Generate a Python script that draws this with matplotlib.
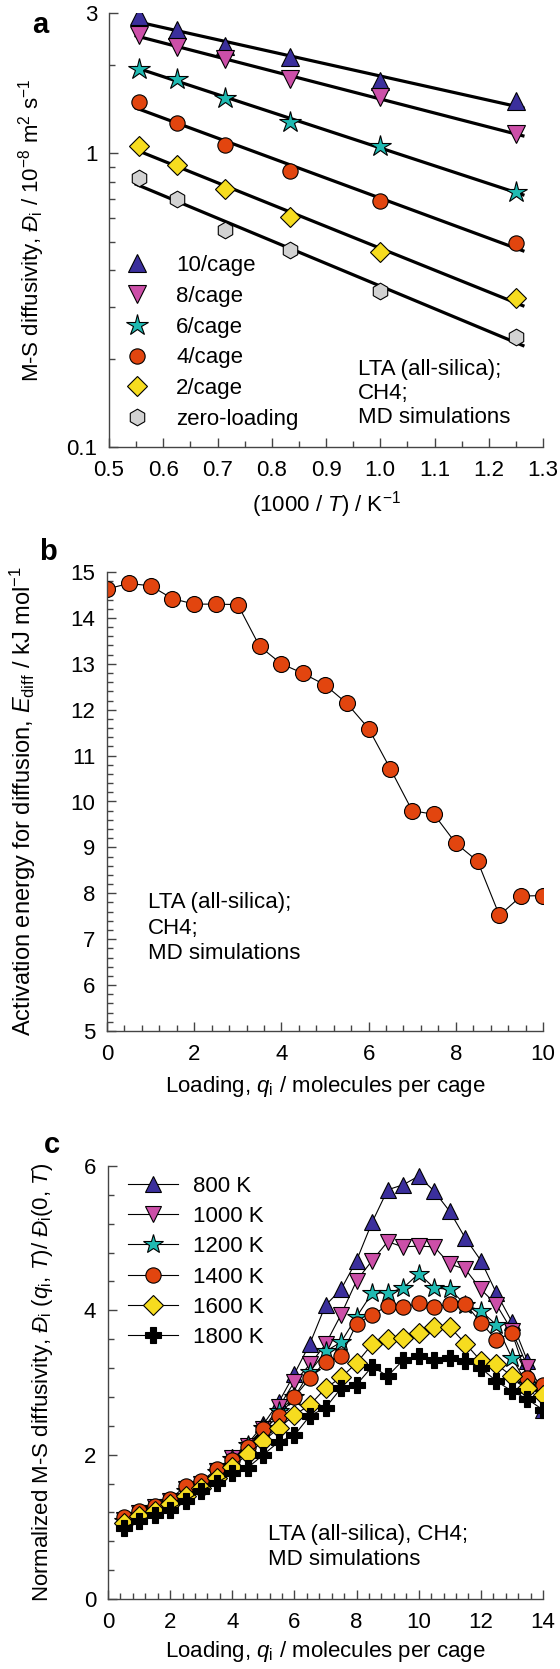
import numpy as np
import matplotlib
matplotlib.use('Agg')
import matplotlib.pyplot as plt
from matplotlib.ticker import MultipleLocator, FixedLocator, NullFormatter

plt.rcParams['font.family'] = ['Liberation Sans', 'DejaVu Sans']
plt.rcParams['mathtext.fontset'] = 'custom'
plt.rcParams['mathtext.rm'] = 'Liberation Sans'
plt.rcParams['mathtext.it'] = 'Liberation Sans:italic'
plt.rcParams['mathtext.bf'] = 'Liberation Sans:bold'
plt.rcParams['font.size'] = 16

# ---- (a) M-S diffusivity vs 1000/T, per loading ----
temps_a = [1800, 1600, 1400, 1200, 1000, 800]
D_10 = [2.92, 2.63, 2.31, 2.12, 1.76, 1.50]
D_8 = [2.53, 2.30, 2.09, 1.79, 1.55, 1.165]
D_6 = [1.94, 1.79, 1.54, 1.28, 1.06, 0.735]
D_4 = [1.49, 1.27, 1.07, 0.873, 0.689, 0.493]
D_2 = [1.057, 0.914, 0.755, 0.608, 0.462, 0.321]
D_0 = [0.823, 0.698, 0.548, 0.468, 0.339, 0.237]
labels_a = ['10/cage', '8/cage', '6/cage', '4/cage', '2/cage', 'zero-loading']

# ---- (b) activation energy vs loading ----
q_b = [0, 0.5, 1, 1.5, 2, 2.5, 3, 3.5, 4, 4.5, 5, 5.5, 6, 6.5, 7, 7.5, 8, 8.5, 9, 9.5, 10]
E_diff = [14.63, 14.75, 14.70, 14.42, 14.30, 14.30, 14.29, 13.38, 13.00, 12.79, 12.54,
          12.14, 11.59, 10.71, 9.80, 9.72, 9.09, 8.70, 7.52, 7.94, 7.95]

# ---- (c) normalized diffusivity vs loading, per temperature ----
q_c = [0.5, 1, 1.5, 2, 2.5, 3, 3.5, 4, 4.5, 5, 5.5, 6, 6.5, 7, 7.5, 8, 8.5, 9, 9.5, 10,
       10.5, 11, 11.5, 12, 12.5, 13, 13.5, 14]
N_800 = [1.10, 1.19, 1.27, 1.36, 1.52, 1.60, 1.79, 1.97, 2.15, 2.42, 2.73, 3.12, 3.54, 4.07,
         4.29, 4.69, 5.22, 5.67, 5.74, 5.86, 5.65, 5.37, 5.00, 4.69, 4.24, 3.84, 3.30, 2.62]
N_1000 = [1.10, 1.19, 1.27, 1.36, 1.52, 1.60, 1.77, 1.95, 2.12, 2.36, 2.66, 3.01, 3.25, 3.53,
          3.94, 4.41, 4.69, 4.95, 4.88, 4.89, 4.88, 4.64, 4.57, 4.29, 4.08, 3.72, 3.22, 2.90]
N_1200 = [1.08, 1.17, 1.25, 1.34, 1.50, 1.58, 1.76, 1.94, 2.13, 2.37, 2.60, 2.80, 3.15, 3.43,
          3.56, 3.91, 4.24, 4.24, 4.31, 4.51, 4.31, 4.29, 4.08, 3.99, 3.80, 3.34, 2.97, 2.88]
N_1400 = [1.13, 1.22, 1.29, 1.38, 1.57, 1.63, 1.80, 1.93, 2.10, 2.35, 2.53, 2.80, 3.06, 3.29,
          3.37, 3.81, 3.94, 4.06, 4.04, 4.10, 4.04, 4.09, 4.09, 3.83, 3.59, 3.69, 3.06, 2.96]
N_1600 = [1.05, 1.15, 1.22, 1.31, 1.43, 1.54, 1.68, 1.83, 2.01, 2.19, 2.37, 2.55, 2.69, 2.92,
          3.07, 3.27, 3.53, 3.60, 3.61, 3.68, 3.77, 3.77, 3.54, 3.30, 3.25, 3.09, 2.93, 2.83]
N_1800 = [0.99, 1.08, 1.17, 1.24, 1.36, 1.50, 1.61, 1.74, 1.82, 2.00, 2.18, 2.27, 2.54, 2.65,
          2.92, 2.97, 3.22, 3.09, 3.31, 3.37, 3.31, 3.34, 3.30, 3.20, 3.02, 2.88, 2.77, 2.62]
labels_c = ['800 K', '1000 K', '1200 K', '1400 K', '1600 K', '1800 K']

blue = '#3b2f9c'
pink = '#cc4fa8'
teal = '#1fbab2'
orange = '#e2450f'
yellow = '#f6dc1f'
grey = '#d2d2d2'
axcol = '#444444'

W, H = 560, 1669
fig = plt.figure(figsize=(W / 100, H / 100), dpi=100)


def box(left, top, right, bottom):
    return [left / W, 1 - bottom / H, (right - left) / W, (bottom - top) / H]


def style(ax):
    for s in ['top', 'right']:
        ax.spines[s].set_visible(False)
    for s in ['left', 'bottom']:
        ax.spines[s].set_color(axcol)
        ax.spines[s].set_linewidth(1.0)
    ax.tick_params(which='both', direction='in', color=axcol, width=1.0)
    ax.tick_params(which='major', length=6.5)
    ax.tick_params(which='minor', length=4.5)
    ax.tick_params(axis='x', which='both', pad=9)
    ax.tick_params(axis='y', which='both', pad=8.4)


# ================= panel a =================
ax1 = fig.add_axes(box(109, 13, 543, 447))
style(ax1)
x_a = 1000.0 / np.array(temps_a)
series_a = [D_10, D_8, D_6, D_4, D_2, D_0]
marks_a = [('^', blue, 13), ('v', pink, 13), ('*', teal, 16),
           ('o', orange, 11), ('D', yellow, 10.5), ('h', grey, 12)]
xfit = np.array([0.55, 1.263])
for D in series_a:
    k, b = np.polyfit(x_a, np.log(D), 1)
    ax1.plot(xfit, np.exp(k * xfit + b), color='black', lw=2.3, zorder=2)
for D, (m, c, ms), lab in zip(series_a, marks_a, labels_a):
    ax1.plot(x_a, D, ls='none', marker=m, ms=ms, mfc=c, mec='black', mew=0.8,
             label=lab, zorder=3)
ax1.set_yscale('log')
ax1.set_xlim(0.5, 1.3)
ax1.set_ylim(0.1, 3)
ax1.xaxis.set_major_locator(MultipleLocator(0.1))
ax1.xaxis.set_minor_locator(MultipleLocator(0.05))
ax1.set_xticklabels(['%.1f' % v for v in ax1.get_xticks()])
ax1.yaxis.set_major_locator(FixedLocator([0.1, 1, 3]))
ax1.yaxis.set_minor_locator(FixedLocator([0.2, 0.3, 0.4, 0.5, 0.6, 0.7, 0.8, 0.9, 2]))
ax1.yaxis.set_minor_formatter(NullFormatter())
ax1.set_yticklabels(['0.1', '1', '3'])
ax1.set_xlabel(r'(1000 / $T$) / K$^{-1}$', labelpad=6)
ax1.set_ylabel(r'M-S diffusivity, $\mathit{Đ}_\mathrm{i}$ / 10$^{-8}$ m$^2$ s$^{-1}$')
ax1.yaxis.set_label_coords(-0.144, 0.5)
ax1.legend(loc='upper left', bbox_to_anchor=(0.04, 0.4425), frameon=False,
           handlelength=1.0, handletextpad=1.25, labelspacing=0.44,
           borderpad=0, borderaxespad=0, numpoints=1)
ax1.text(0.574, 0.2036, 'LTA (all-silica);\nCH4;\nMD simulations',
         transform=ax1.transAxes, va='top', ha='left', linespacing=1.2)
fig.text(40 / W, 1 - 25 / H, 'a', fontsize=21, fontweight='bold', ha='center', va='center')

# ================= panel b =================
ax2 = fig.add_axes(box(107, 572, 543, 1031))
style(ax2)
ax2.plot(q_b, E_diff, color='black', lw=0.8, marker='o', ms=11.5, mfc=orange,
         mec='black', mew=0.8)
ax2.set_xlim(0, 10)
ax2.set_ylim(5, 15)
ax2.xaxis.set_major_locator(MultipleLocator(2))
ax2.xaxis.set_minor_locator(MultipleLocator(0.4))
ax2.yaxis.set_major_locator(MultipleLocator(1))
ax2.yaxis.set_minor_locator(MultipleLocator(0.2))
ax2.set_xlabel(r'Loading, $q_\mathrm{i}$ / molecules per cage', labelpad=6.5)
ax2.set_ylabel(r'Activation energy for diffusion, $E_\mathrm{diff}$ / kJ mol$^{-1}$',
               fontsize=17)
ax2.yaxis.set_label_coords(-0.159, 0.5)
ax2.text(0.094, 0.3018, 'LTA (all-silica);\nCH4;\nMD simulations',
         transform=ax2.transAxes, va='top', ha='left', linespacing=1.27)
fig.text(48 / W, 1 - 552 / H, 'b', fontsize=21, fontweight='bold', ha='center', va='center')

# ================= panel c =================
ax3 = fig.add_axes(box(108, 1166, 543, 1599))
style(ax3)
series_c = [N_800, N_1000, N_1200, N_1400, N_1600, N_1800]
marks_c = [('^', blue, 12), ('v', pink, 12), ('*', teal, 15),
           ('o', orange, 11), ('D', yellow, 10), ('P', 'black', 11)]
for N, (m, c, ms), lab in zip(series_c, marks_c, labels_c):
    ax3.plot(q_c, N, color='black', lw=0.8, marker=m, ms=ms, mfc=c, mec='black',
             mew=0.8, label=lab)
ax3.set_xlim(0, 14)
ax3.set_ylim(0, 6)
ax3.xaxis.set_major_locator(MultipleLocator(2))
ax3.xaxis.set_minor_locator(MultipleLocator(0.4))
ax3.yaxis.set_major_locator(MultipleLocator(2))
ax3.yaxis.set_minor_locator(MultipleLocator(0.4))
ax3.set_xlabel(r'Loading, $q_\mathrm{i}$ / molecules per cage', labelpad=5)
ax3.set_ylabel(r'Normalized M-S diffusivity, $\mathit{Đ}_\mathrm{i}$ ($q_\mathrm{i}$, $T$)/ '
               r'$\mathit{Đ}_\mathrm{i}$(0, $T$)')
ax3.yaxis.set_label_coords(-0.122, 0.5)
ax3.legend(loc='upper left', bbox_to_anchor=(0.046, 0.978), frameon=False,
           handlelength=2.25, handletextpad=0.68, labelspacing=0.42,
           borderpad=0, borderaxespad=0, numpoints=1)
ax3.text(0.368, 0.1725, 'LTA (all-silica), CH4;\nMD simulations',
         transform=ax3.transAxes, va='top', ha='left', linespacing=1.2)
fig.text(52 / W, 1 - 1145 / H, 'c', fontsize=21, fontweight='bold', ha='center', va='center')

fig.savefig('out.png', dpi=100)
